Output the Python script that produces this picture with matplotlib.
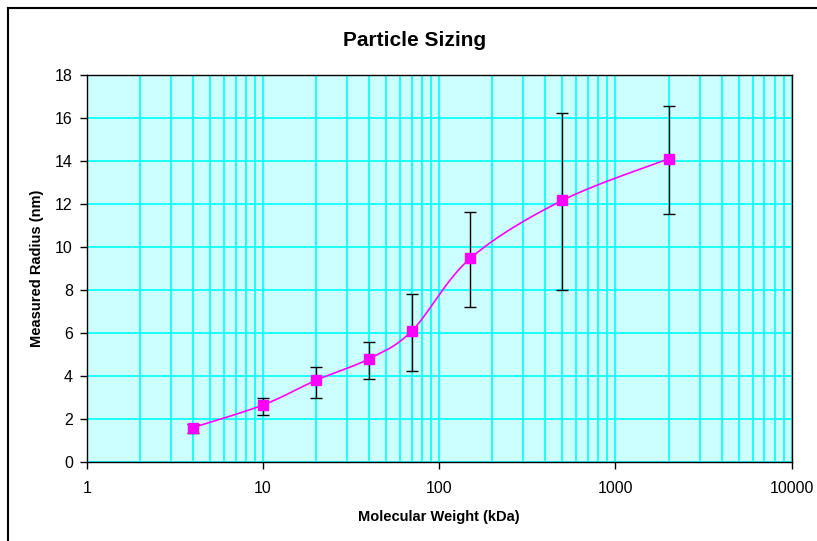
import numpy as np
import matplotlib
matplotlib.use("Agg")
import matplotlib.pyplot as plt
from matplotlib.lines import Line2D

plt.rcParams['font.family'] = ['Liberation Sans', 'DejaVu Sans']

# molecular weight (kDa), measured radius (nm) and error bar ends
mw = [4, 10, 20, 40, 70, 150, 500, 2000]
radius = [1.6, 2.65, 3.8, 4.8, 6.1, 9.47, 12.17, 14.1]
err_low = [1.33, 2.17, 2.98, 3.86, 4.23, 7.22, 7.99, 11.55]
err_high = [1.75, 2.99, 4.43, 5.6, 7.8, 11.61, 16.23, 16.57]

x_ticks = [1, 10, 100, 1000, 10000]
y_ticks = [0, 2, 4, 6, 8, 10, 12, 14, 16, 18]


def smooth_curve(xs, ys, sx, sy, n=40):
    # bezier smoothing (like a spreadsheet "smoothed line"), done in screen-like units
    px = np.log10(xs) * sx
    py = np.asarray(ys) * sy
    pts = np.column_stack([px, py])
    out = []
    for i in range(len(pts) - 1):
        p0 = pts[i - 1] if i > 0 else pts[i]
        p1 = pts[i]
        p2 = pts[i + 1]
        p3 = pts[i + 2] if i + 2 < len(pts) else pts[i + 1]
        c1 = p1 + (p2 - p0) / 6
        c2 = p2 - (p3 - p1) / 6
        t = np.linspace(0, 1, n)[:, None]
        seg = ((1 - t) ** 3) * p1 + 3 * ((1 - t) ** 2) * t * c1 + 3 * (1 - t) * t ** 2 * c2 + t ** 3 * p2
        out.append(seg)
    out = np.vstack(out)
    return 10 ** (out[:, 0] / sx), out[:, 1] / sy


fig = plt.figure(figsize=(8.17, 5.41), dpi=100)
fig.patch.set_facecolor('white')

# outer chart frame (only left and top edges fall inside the image)
fig.add_artist(Line2D([8 / 817, 8 / 817], [0, 1 - 8 / 541], transform=fig.transFigure, color='black', lw=1.5))
fig.add_artist(Line2D([8 / 817, 1], [1 - 8 / 541, 1 - 8 / 541], transform=fig.transFigure, color='black', lw=1.5))

ax = fig.add_axes([86.7 / 817, (541 - 462) / 541, 705 / 817, 387 / 541])
ax.set_facecolor('#CCFFFF')
ax.set_xscale('log')
ax.set_xlim(1, 10000)
ax.set_ylim(0, 18)

ax.set_xticks(x_ticks)
ax.set_xticklabels([str(v) for v in x_ticks])
ax.set_yticks(y_ticks)
ax.xaxis.set_minor_locator(matplotlib.ticker.LogLocator(base=10, subs=np.arange(2, 10)))
ax.xaxis.set_minor_formatter(matplotlib.ticker.NullFormatter())
ax.tick_params(axis='x', which='minor', length=0)
ax.tick_params(axis='both', which='major', direction='out', length=5, width=1,
               labelsize=11.5, color='black')
ax.tick_params(axis='x', which='major', pad=9)
ax.tick_params(axis='y', which='major', pad=5)

ax.grid(True, which='both', axis='x', color='#00FFFF', lw=1.2)
ax.grid(True, which='major', axis='y', color='#00FFFF', lw=1.2)
ax.set_axisbelow(True)
for s in ax.spines.values():
    s.set_color('black')
    s.set_linewidth(1)

sx, sy = 705 / 4, 387 / 18
cx, cy = smooth_curve(mw, radius, sx, sy)
ax.plot(cx, cy, color='#FF00FF', lw=1.2, zorder=3)

yerr = [np.array(radius) - np.array(err_low), np.array(err_high) - np.array(radius)]
ax.errorbar(mw, radius, yerr=yerr, fmt='none', ecolor='black', elinewidth=1,
            capsize=4, capthick=1, zorder=4)
ax.plot(mw, radius, 's', color='#FF00FF', markersize=6.5, zorder=5)

ax.set_xlabel('Molecular Weight (kDa)', fontsize=10.5, fontweight='bold', labelpad=10)
ax.set_ylabel('Measured Radius (nm)', fontsize=10.5, fontweight='bold', labelpad=8)
fig.text(415 / 817, 1 - 41 / 541, 'Particle Sizing', ha='center', va='center',
         fontsize=15, fontweight='bold')

fig.savefig('out.png', dpi=100)
